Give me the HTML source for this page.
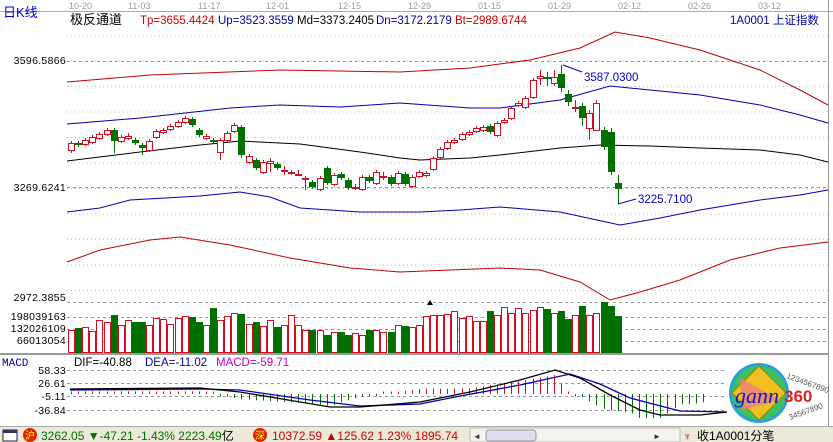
<!DOCTYPE html>
<html><head><meta charset="utf-8"><style>
html,body{margin:0;padding:0;background:#fff;}
svg{display:block;font-family:"Liberation Sans","Noto Sans CJK SC",sans-serif;}
</style></head><body>
<svg id="s" width="833" height="442" xmlns="http://www.w3.org/2000/svg">
<rect width="833" height="442" fill="#fff"/>
<line x1="0" y1="11.5" x2="833" y2="11.5" stroke="#aaa"/>
<line x1="828.5" y1="0" x2="828.5" y2="426" stroke="#999"/>
<g font-size="9" fill="#999">
<text x="69" y="9">10-20</text><text x="128" y="9">11-03</text><text x="198" y="9">11-17</text><text x="266" y="9">12-01</text><text x="338" y="9">12-15</text><text x="408" y="9">12-29</text><text x="478" y="9">01-15</text><text x="548" y="9">01-29</text><text x="618" y="9">02-12</text><text x="688" y="9">02-26</text><text x="758" y="9">03-12</text>
</g>
<text x="3" y="17" font-size="13" fill="#0000c0">日K线</text>
<g font-size="11.5">
<text x="70" y="24" fill="#000" font-size="13">极反通道</text>
<text x="140" y="24" fill="#d00000">Tp=3655.4424</text>
<text x="218" y="24" fill="#0000a0">Up=3523.3559</text>
<text x="297" y="24" fill="#000">Md=3373.2405</text>
<text x="376" y="24" fill="#0000a0">Dn=3172.2179</text>
<text x="455" y="24" fill="#d00000">Bt=2989.6744</text>
<text x="730" y="24" fill="#0000a0">1A0001  上证指数</text>
</g>
<g id="grid"></g>
<g font-size="10.5" fill="#000" text-anchor="end" letter-spacing="0.3">
<text x="66" y="64">3596.5866</text><text x="66" y="191">3269.6241</text><text x="66" y="301">2972.3855</text>
<text x="66" y="320">198039163</text><text x="66" y="332">132026109</text><text x="66" y="344">66013054</text>
<text x="66" y="374">58.33</text><text x="66" y="387">26.61</text><text x="66" y="400">-5.11</text><text x="66" y="414">-36.84</text>
</g>
<g id="bands"></g>
<g id="candles"></g>
<g id="vol"></g>
<line x1="0" y1="354" x2="828" y2="354" stroke="#999" stroke-width="2"/>
<text x="2" y="366" font-size="11" fill="#0000a0" font-family="Liberation Mono,monospace">MACD</text>
<g font-size="11.5"><text x="74" y="366" fill="#000">DIF=-40.88</text><text x="145" y="366" fill="#0000a0">DEA=-11.02</text><text x="216" y="366" fill="#c000c0">MACD=-59.71</text></g>
<g id="macd"></g>
<polyline points="563,65 582,72" stroke="#0000c0" fill="none"/>
<text x="584" y="81" font-size="11.5" fill="#0000c0">3587.0300</text>
<polyline points="618,204 636,199" stroke="#0000c0" fill="none"/>
<text x="638" y="203" font-size="11.5" fill="#0000c0">3225.7100</text>
<polygon points="427,305 430,300 433,305" fill="#000"/>
<g>
<circle cx="759" cy="393" r="30" fill="#2aa0d8"/>
<circle cx="759" cy="393" r="27" fill="#3cc060"/>
<polygon points="759,366 786,393 759,420 732,393" fill="#f0c020" stroke="#a08000"/>
<polygon points="740,378 780,400 742,410" fill="#f08080" opacity="0.8"/>
<text x="735" y="403" font-size="22" font-style="italic" fill="#1020c0" font-family="Liberation Serif,serif">gann</text>
<text x="784" y="402" font-size="17" font-weight="bold" fill="#e02020">360</text>
<text x="786" y="378" font-size="8" fill="#555" transform="rotate(20 786 378)">1234567890</text>
<text x="790" y="420" font-size="8" fill="#555" transform="rotate(-20 790 420)">34567890</text>
</g>
<rect x="0" y="426" width="833" height="16" fill="#ece9d8"/>
<line x1="0" y1="426.5" x2="833" y2="426.5" stroke="#aaa"/>
<rect x="3" y="430" width="14" height="11" fill="#fff" stroke="#224"/>
<rect x="3" y="430" width="14" height="3" fill="#336"/>
<circle cx="30" cy="435" r="7" fill="#e02000"/><text x="25" y="439" font-size="10" fill="#ff0">沪</text>
<text x="41" y="440" font-size="12" fill="#007000">3262.05 ▼-47.21 -1.43% 2223.49<tspan fill="#000">亿</tspan></text>
<circle cx="260" cy="435" r="7" fill="#e02000"/><text x="255" y="439" font-size="10" fill="#ff0">深</text>
<text x="272" y="440" font-size="12" fill="#d00000">10372.59 ▲125.62 1.23% 1895.74</text>
<rect x="470" y="428" width="210" height="14" fill="#f4f3ee" stroke="#bbb"/>
<rect x="486" y="430" width="50" height="11" rx="3" fill="#dde" stroke="#99a"/>
<text x="473" y="439" font-size="8" fill="#333">◄</text><text x="653" y="439" font-size="8" fill="#333">►</text>
<text x="683" y="440" font-size="11" fill="#c00">♆</text>
<text x="697" y="440" font-size="12" fill="#000">收1A0001分笔</text>
</svg>
<script>
var NS="http://www.w3.org/2000/svg";
function el(p,t,a){var e=document.createElementNS(NS,t);for(var k in a)e.setAttribute(k,a[k]);document.getElementById(p).appendChild(e);return e;}
for(var y=35;y<=290;y+=25.5){el("grid","line",{x1:67,x2:828,y1:y+0.5,y2:y+0.5,stroke:"#bbb","stroke-dasharray":"1,3"});}
[61,187].forEach(function(y){el("grid","line",{x1:67,x2:828,y1:y+.5,y2:y+.5,stroke:"#999","stroke-dasharray":"3,3"});});
[302,317,329,341].forEach(function(y){el("grid","line",{x1:67,x2:828,y1:y+.5,y2:y+.5,stroke:"#999","stroke-dasharray":"3,3"});});
[370,383,396,410].forEach(function(y){el("grid","line",{x1:67,x2:727,y1:y+.5,y2:y+.5,stroke:"#999","stroke-dasharray":"3,3"});});
function pl(pts,c){el("bands","polyline",{points:pts.map(function(p){return p.join(",")}).join(" "),fill:"none",stroke:c});}
pl([[67,82],[150,75],[280,70],[400,72],[470,68],[530,60],[580,48],[615,32],[650,38],[700,50],[760,70],[800,90],[828,105]],"#c00000");
pl([[67,124],[140,118],[230,108],[280,105],[340,107],[400,103],[470,108],[500,108],[560,100],[610,86],[650,90],[700,95],[760,105],[800,115],[828,123]],"#0000b0");
pl([[67,161],[140,152],[200,145],[240,141],[300,144],[360,152],[400,158],[420,160],[470,158],[500,155],[560,148],[600,145],[650,146],[700,148],[760,150],[800,155],[828,162]],"#000");
pl([[67,212],[100,208],[130,200],[200,196],[240,192],[270,197],[300,208],[360,212],[420,212],[460,210],[500,207],[560,212],[620,225],[660,218],[700,210],[760,200],[800,195],[828,190]],"#0000b0");
pl([[67,262],[100,250],[150,240],[180,237],[230,245],[290,258],[350,268],[400,272],[450,270],[500,268],[540,270],[580,282],[610,300],[640,292],[680,280],[730,260],[780,248],[828,242]],"#c00000");
var C=[["r",143,150,141,153],["g",143,145],["r",140,144],["r",137,142],["r",134,138],["r",130,134],["g",130,141,128,153],["r",137,141],["r",136,138,133,140],["g",140,143],["g",145,148,143,155],["r",141,150,139,152],["r",131,137],["r",130,132],["r",126,129],["r",122,126],["r",118,122],["g",119,125],["g",130,135],["r",136,138],["g",140,142],["r",140,152,138,160],["r",133,140],["r",125,131],["g",127,155,125,158],["r",156,162],["g",160,168],["r",162,172],["r",161,163,158,172],["g",164,168],["r",170,171,166,175],["r",172,173],["r",174,175,170,175],["r",178,179,176,190],["g",182,187],["r",178,189],["g",168,183],["r",175,184],["g",174,178],["g",180,188],["r",187,188,184,190],["r",177,189],["g",177,181],["r",172,183],["r",176,177,172,180],["g",177,184],["r",173,183],["g",174,184],["r",177,186],["r",172,176],
["r",173,175],["r",158,169],["r",149,157],["r",142,148],["r",140,142],["r",134,139],["r",132,134],["r",128,131],["r",127,130],["g",126,132],["r",123,135],["r",120,122],["r",108,118],["r",103,105],["r",98,107],["r",80,97],["r",76,78,70,85],["g",77,79,72,86],["r",77,83,70,86],["g",74,88,65,92],["g",94,102,90,106],["r",107,108,100,112],["g",106,118,103,126],["r",113,128,110,140],["r",103,130,100,130],["g",130,147,127,150],["g",132,172,128,175],["g",183,189,175,204]];
var V=[330,328,327,331,320,322,315,325,320,322,322,325,318,319,324,318,316,317,322,325,308,320,316,313,314,324,322,326,320,327,325,315,325,330,330,330,335,332,332,335,333,335,330,330,332,332,325,326,327,325,316,315,315,314,311,318,316,321,321,311,315,307,313,308,313,310,307,309,313,311,319,315,306,315,313,302,306,316];
C.forEach(function(c,i){
 var x=Math.round(71+7.1*i), col=c[0]=="r"?"#d01020":"#007000";
 var top=c[1],bot=c[2],wt=c[3]||top-2,wb=c[4]||bot+2;
 el("candles","line",{x1:x+.5,x2:x+.5,y1:wt,y2:wb,stroke:col});
 if(c[0]=="r") el("candles","rect",{x:x-2.5,y:top+.5,width:6,height:Math.max(bot-top,1),fill:"#fff",stroke:col});
 else el("candles","rect",{x:x-3,y:top,width:7,height:Math.max(bot-top,1),fill:col});
 var vt=V[i];
 if(c[0]=="r") el("vol","rect",{x:x-2.5,y:vt+.5,width:6,height:353-vt-1,fill:"#fff",stroke:col});
 else el("vol","rect",{x:x-3,y:vt,width:7,height:353-vt,fill:col});
});
function interp(pts,x){for(var k=0;k<pts.length-1;k++){if(x<=pts[k+1][0]){var a=pts[k],b=pts[k+1];return a[1]+(b[1]-a[1])*(x-a[0])/(b[0]-a[0]);}}return pts[pts.length-1][1];}
var DIF=[[70,389],[200,388],[240,392],[300,402],[330,407],[360,407],[420,402],[470,392],[520,380],[555,370],[580,378],[610,395],[640,410],[660,415],[700,415],[727,412]];
var DEA=[[70,390],[200,389],[240,390],[310,400],[360,406],[420,404],[455,397],[520,385],[570,374],[600,384],[630,398],[680,411],[727,412]];
for(var i=0;i<90;i++){var x=Math.round(71+7.1*i);if(x>703)break;
 var h=(interp(DEA,x)-interp(DIF,x))*2.6; var base=394;
 if(Math.abs(h)<2.5)h=h<0?-2.5:2.5;
 el("macd","line",{x1:x+.5,x2:x+.5,y1:base,y2:base-h,stroke:h>0?"#d01020":"#007000"});}
el("macd","polyline",{points:DEA.map(function(p){return p.join(",")}).join(" "),fill:"none",stroke:"#0000b0","stroke-width":1.3});
el("macd","polyline",{points:DIF.map(function(p){return p.join(",")}).join(" "),fill:"none",stroke:"#000","stroke-width":1.3});
</script>
</body></html>
